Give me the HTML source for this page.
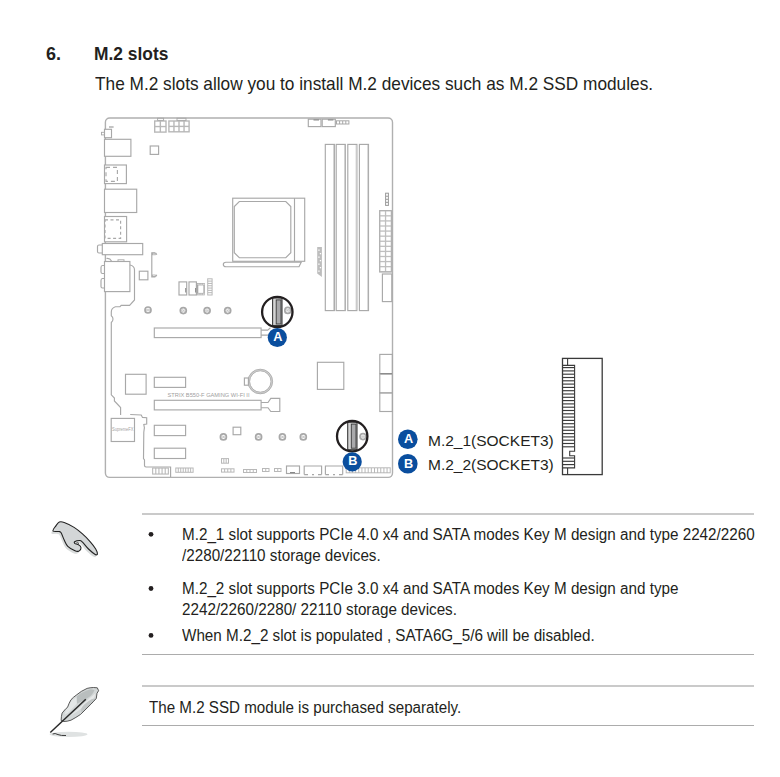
<!DOCTYPE html>
<html><head><meta charset="utf-8">
<style>
html,body{margin:0;padding:0;background:#fff;width:780px;height:777px;overflow:hidden;position:relative}
.t{position:absolute;font-family:"Liberation Sans",sans-serif;white-space:pre;line-height:1;color:#231f20;transform-origin:0 0}
.rule{position:absolute;height:1px;background:#b8b8b8}
svg{position:absolute;left:0;top:0}
</style></head><body>
<div class="t" style="left:46px;top:45px;font-size:18px;font-weight:bold">6.</div>
<div class="t" style="left:94px;top:45px;font-size:18px;font-weight:bold;transform:scaleX(0.965)">M.2 slots</div>
<div class="t" style="left:95px;top:73.5px;font-size:19px;transform:scaleX(0.908)">The M.2 slots allow you to install M.2 devices such as M.2 SSD modules.</div>

<div class="rule" style="left:142px;top:513px;width:612px;height:2px;background:#cacaca"></div>
<div class="rule" style="left:142px;top:654px;width:612px;background:#acacac"></div>
<div class="rule" style="left:142px;top:685px;width:612px;height:2px;background:#cacaca"></div>
<div class="rule" style="left:142px;top:725px;width:612px;background:#acacac"></div>

<div class="t" style="left:182px;top:527px;font-size:16px;transform:scaleX(0.952)">M.2_1 slot supports PCIe 4.0 x4 and SATA modes Key M design and type 2242/2260</div>
<div class="t" style="left:182px;top:548px;font-size:16px;transform:scaleX(0.952)">/2280/22110 storage devices.</div>
<div class="t" style="left:182px;top:581px;font-size:16px;transform:scaleX(0.952)">M.2_2 slot supports PCIe 3.0 x4 and SATA modes Key M design and type</div>
<div class="t" style="left:182px;top:602px;font-size:16px;transform:scaleX(0.952)">2242/2260/2280/ 22110 storage devices.</div>
<div class="t" style="left:182px;top:628px;font-size:16px;transform:scaleX(0.952)">When M.2_2 slot is populated , SATA6G_5/6 will be disabled.</div>
<div class="t" style="left:149px;top:700px;font-size:16px;transform:scaleX(0.947)">The M.2 SSD module is purchased separately.</div>

<div class="t" style="left:428px;top:433px;font-size:15px;transform:scaleX(1.033)">M.2_1(SOCKET3)</div>
<div class="t" style="left:428px;top:457px;font-size:15px;transform:scaleX(1.033)">M.2_2(SOCKET3)</div>

<svg width="780" height="777" viewBox="0 0 780 777">
<g fill="#231f20">
<circle cx="151" cy="534.3" r="2.4"/>
<circle cx="151" cy="588.5" r="2.4"/>
<circle cx="151" cy="635.4" r="2.4"/>
</g>
<rect x="105.40" y="118.00" width="287.10" height="359.40" rx="4.3" fill="none" stroke="#b0b0b0" stroke-width="1.4" />
<rect x="104.50" y="129.30" width="7.00" height="8.40" rx="0" fill="#fff" stroke="#a8a8a8" stroke-width="1.15" />
<rect x="101.50" y="132.30" width="3.00" height="2.60" rx="0" fill="none" stroke="#a8a8a8" stroke-width="0.9" />
<rect x="109" y="126" width="4.6" height="2" fill="#c4c4c4"/>
<rect x="154.00" y="120.30" width="12.70" height="12.50" fill="#b8b8b8"/>
<rect x="155.40" y="121.70" width="4.25" height="4.15" fill="#fff"/>
<rect x="155.40" y="127.25" width="4.25" height="4.15" fill="#fff"/>
<rect x="161.05" y="121.70" width="4.25" height="4.15" fill="#fff"/>
<rect x="161.05" y="127.25" width="4.25" height="4.15" fill="#fff"/>
<rect x="157.60" y="118.20" width="6.00" height="2.20" rx="0" fill="none" stroke="#a8a8a8" stroke-width="0.9" />
<rect x="168.20" y="120.30" width="21.60" height="12.20" fill="#b8b8b8"/>
<rect x="169.60" y="121.70" width="3.65" height="4.00" fill="#fff"/>
<rect x="169.60" y="127.10" width="3.65" height="4.00" fill="#fff"/>
<rect x="174.65" y="121.70" width="3.65" height="4.00" fill="#fff"/>
<rect x="174.65" y="127.10" width="3.65" height="4.00" fill="#fff"/>
<rect x="179.70" y="121.70" width="3.65" height="4.00" fill="#fff"/>
<rect x="179.70" y="127.10" width="3.65" height="4.00" fill="#fff"/>
<rect x="184.75" y="121.70" width="3.65" height="4.00" fill="#fff"/>
<rect x="184.75" y="127.10" width="3.65" height="4.00" fill="#fff"/>
<rect x="177.00" y="118.20" width="9.00" height="2.20" rx="0" fill="none" stroke="#a8a8a8" stroke-width="0.9" />
<rect x="308.30" y="119.20" width="12.70" height="7.40" rx="0" fill="none" stroke="#a8a8a8" stroke-width="1.15" />
<rect x="313.5" y="119.3" width="5.5" height="1.2" fill="#8c8c8c"/>
<rect x="322.20" y="119.20" width="13.10" height="7.40" rx="0" fill="none" stroke="#a8a8a8" stroke-width="1.15" />
<rect x="327.9" y="119.3" width="5.5" height="1.2" fill="#8c8c8c"/>
<rect x="336.00" y="120.30" width="13.40" height="4.20" fill="#a8a8a8"/>
<rect x="337.00" y="121.30" width="2.10" height="2.20" fill="#fff"/>
<rect x="340.10" y="121.30" width="2.10" height="2.20" fill="#fff"/>
<rect x="343.20" y="121.30" width="2.10" height="2.20" fill="#fff"/>
<rect x="346.30" y="121.30" width="2.10" height="2.20" fill="#fff"/>
<rect x="104.50" y="139.30" width="26.40" height="17.00" rx="0" fill="#fff" stroke="#a8a8a8" stroke-width="1.15" />
<rect x="150.20" y="146.00" width="8.40" height="8.40" rx="0" fill="none" stroke="#a8a8a8" stroke-width="1.15" />
<rect x="104.50" y="165.00" width="21.90" height="18.60" rx="0" fill="#fff" stroke="#a8a8a8" stroke-width="1.15" />
<path d="M106,167.3 H117.4 V181.4 H106 Z" fill="none" stroke="#a8a8a8" stroke-width="1.15" stroke-dasharray="4 3"/>
<rect x="104.50" y="189.20" width="32.20" height="23.30" rx="0" fill="#fff" stroke="#a8a8a8" stroke-width="1.15" />
<rect x="104.50" y="216.50" width="22.10" height="25.30" rx="0" fill="#fff" stroke="#a8a8a8" stroke-width="1.15" />
<path d="M105,219.9 H120.6 V238.3 H105 Z" fill="none" stroke="#a8a8a8" stroke-width="1.15" stroke-dasharray="3 2.5"/>
<rect x="102.30" y="243.50" width="40.40" height="11.20" rx="0" fill="#fff" stroke="#a8a8a8" stroke-width="1.15" />
<path d="M102.3,245 H99 Q97.5,245 97.5,246.5 V251.5 Q97.5,253 99,253 H102.3" fill="none" stroke="#a8a8a8" stroke-width="1.15" />
<rect x="104.50" y="261.50" width="25.40" height="30.10" rx="0" fill="#fff" stroke="#a8a8a8" stroke-width="1.15" />
<path d="M104.5,265.5 H102.5 Q101,265.5 101,267.5 V272 Q101,273.5 102.5,273.5 H104.5" fill="none" stroke="#a8a8a8" stroke-width="1.15" />
<path d="M104.5,278.5 H102.5 Q101,278.5 101,280.5 V286.5 Q101,288 102.5,288 H104.5" fill="none" stroke="#a8a8a8" stroke-width="1.15" />
<path d="M106.5,258.5 Q110,258 111.5,261" fill="none" stroke="#a8a8a8" stroke-width="1.15" />
<rect x="118.00" y="259.80" width="6.00" height="1.70" rx="0" fill="none" stroke="#a8a8a8" stroke-width="0.9" />
<path d="M130,265 Q134.5,266 134.5,270 L134.5,300 L129.6,305.4 L121.2,305.4 L120,306.7 L115.4,306.7 Q111.3,308 111.3,312 L111.3,315.7 Q113,317 113,319 Q113,321 111.3,322.5 L111.3,394.8 L114.4,398 L114.4,401 L120.6,407.5 L120.6,415" fill="none" stroke="#a8a8a8" stroke-width="1.15" />
<rect x="139.30" y="271.20" width="8.60" height="8.60" rx="0" fill="none" stroke="#a8a8a8" stroke-width="1.15" />
<path d="M155.4,252.7 H151.8 V276.8 H155.4 M155.8,253 L156.8,254.8 M155.8,276.5 L156.8,274.8" fill="none" stroke="#a8a8a8" stroke-width="1.15" />
<rect x="152.30" y="253.20" width="3.00" height="1.60" rx="0" fill="none" stroke="#a8a8a8" stroke-width="0.8" />
<rect x="152.30" y="275.00" width="3.00" height="1.60" rx="0" fill="none" stroke="#a8a8a8" stroke-width="0.8" />
<rect x="179.00" y="281.90" width="7.70" height="13.10" rx="0" fill="none" stroke="#a8a8a8" stroke-width="1.15" />
<rect x="185.2" y="288" width="1" height="4.5" fill="#888"/>
<rect x="189.00" y="281.90" width="7.40" height="13.10" rx="0" fill="none" stroke="#a8a8a8" stroke-width="1.15" />
<rect x="195.1" y="288" width="1" height="4.5" fill="#888"/>
<rect x="196.9" y="283" width="7.9" height="12.3" fill="#a6a6a6"/>
<rect x="198.3" y="285.4" width="5.1" height="7.5" fill="#fff"/>
<rect x="197.60" y="283.6" width="1" height="1.2" fill="#fff"/>
<rect x="197.60" y="293.5" width="1" height="1.2" fill="#fff"/>
<rect x="199.50" y="283.6" width="1" height="1.2" fill="#fff"/>
<rect x="199.50" y="293.5" width="1" height="1.2" fill="#fff"/>
<rect x="201.40" y="283.6" width="1" height="1.2" fill="#fff"/>
<rect x="201.40" y="293.5" width="1" height="1.2" fill="#fff"/>
<rect x="203.30" y="283.6" width="1" height="1.2" fill="#fff"/>
<rect x="203.30" y="293.5" width="1" height="1.2" fill="#fff"/>
<rect x="207.20" y="278.30" width="5.40" height="17.20" fill="#b8b8b8"/>
<rect x="208.20" y="279.30" width="3.40" height="1.31" fill="#fff"/>
<rect x="208.20" y="281.61" width="3.40" height="1.31" fill="#fff"/>
<rect x="208.20" y="283.93" width="3.40" height="1.31" fill="#fff"/>
<rect x="208.20" y="286.24" width="3.40" height="1.31" fill="#fff"/>
<rect x="208.20" y="288.56" width="3.40" height="1.31" fill="#fff"/>
<rect x="208.20" y="290.87" width="3.40" height="1.31" fill="#fff"/>
<rect x="208.20" y="293.19" width="3.40" height="1.31" fill="#fff"/>
<circle cx="303.3" cy="436.9" r="3.00" fill="none" stroke="#a8a8a8" stroke-width="1.7"/>
<circle cx="302.40" cy="436.9" r="0.9" fill="none" stroke="#b8b8b8" stroke-width="0.7"/>
<circle cx="304.20" cy="436.9" r="0.9" fill="none" stroke="#b8b8b8" stroke-width="0.7"/>
<circle cx="148" cy="310" r="3.00" fill="none" stroke="#a8a8a8" stroke-width="1.7"/>
<circle cx="147.10" cy="310" r="0.9" fill="none" stroke="#b8b8b8" stroke-width="0.7"/>
<circle cx="148.90" cy="310" r="0.9" fill="none" stroke="#b8b8b8" stroke-width="0.7"/>
<circle cx="183.3" cy="310.6" r="3.00" fill="none" stroke="#a8a8a8" stroke-width="1.7"/>
<circle cx="182.40" cy="310.6" r="0.9" fill="none" stroke="#b8b8b8" stroke-width="0.7"/>
<circle cx="184.20" cy="310.6" r="0.9" fill="none" stroke="#b8b8b8" stroke-width="0.7"/>
<circle cx="207.1" cy="310.6" r="3.00" fill="none" stroke="#a8a8a8" stroke-width="1.7"/>
<circle cx="206.20" cy="310.6" r="0.9" fill="none" stroke="#b8b8b8" stroke-width="0.7"/>
<circle cx="208.00" cy="310.6" r="0.9" fill="none" stroke="#b8b8b8" stroke-width="0.7"/>
<circle cx="227.7" cy="310.6" r="3.00" fill="none" stroke="#a8a8a8" stroke-width="1.7"/>
<circle cx="226.80" cy="310.6" r="0.9" fill="none" stroke="#b8b8b8" stroke-width="0.7"/>
<circle cx="228.60" cy="310.6" r="0.9" fill="none" stroke="#b8b8b8" stroke-width="0.7"/>
<circle cx="223.4" cy="436.9" r="3.00" fill="none" stroke="#a8a8a8" stroke-width="1.7"/>
<circle cx="222.50" cy="436.9" r="0.9" fill="none" stroke="#b8b8b8" stroke-width="0.7"/>
<circle cx="224.30" cy="436.9" r="0.9" fill="none" stroke="#b8b8b8" stroke-width="0.7"/>
<circle cx="258.6" cy="436.9" r="3.00" fill="none" stroke="#a8a8a8" stroke-width="1.7"/>
<circle cx="257.70" cy="436.9" r="0.9" fill="none" stroke="#b8b8b8" stroke-width="0.7"/>
<circle cx="259.50" cy="436.9" r="0.9" fill="none" stroke="#b8b8b8" stroke-width="0.7"/>
<circle cx="282.4" cy="436.9" r="3.00" fill="none" stroke="#a8a8a8" stroke-width="1.7"/>
<circle cx="281.50" cy="436.9" r="0.9" fill="none" stroke="#b8b8b8" stroke-width="0.7"/>
<circle cx="283.30" cy="436.9" r="0.9" fill="none" stroke="#b8b8b8" stroke-width="0.7"/>
<circle cx="363" cy="436.6" r="3.00" fill="none" stroke="#a8a8a8" stroke-width="1.7"/>
<circle cx="362.10" cy="436.6" r="0.9" fill="none" stroke="#b8b8b8" stroke-width="0.7"/>
<circle cx="363.90" cy="436.6" r="0.9" fill="none" stroke="#b8b8b8" stroke-width="0.7"/>
<circle cx="287.8" cy="310.4" r="3.00" fill="none" stroke="#a8a8a8" stroke-width="1.7"/>
<circle cx="286.90" cy="310.4" r="0.9" fill="none" stroke="#b8b8b8" stroke-width="0.7"/>
<circle cx="288.70" cy="310.4" r="0.9" fill="none" stroke="#b8b8b8" stroke-width="0.7"/>
<rect x="232.70" y="198.20" width="72.00" height="63.10" rx="0" fill="none" stroke="#a8a8a8" stroke-width="1.15" />
<path d="M294.5,198.2 V261.3" fill="none" stroke="#a8a8a8" stroke-width="1.15" />
<path d="M239.3,201.5 H285.8 L290.8,206.5 V252.7 L285.8,257.7 H239.3 L234.3,252.7 V206.5 Z" fill="none" stroke="#a8a8a8" stroke-width="1.15" />
<path d="M226,262.2 H301.2 L299,266.7 H226 Q223.3,266.7 223.3,264.45 Q223.3,262.2 226,262.2 Z" fill="none" stroke="#a8a8a8" stroke-width="1.15" />
<rect x="325.30" y="144.40" width="9.10" height="166.20" rx="0" fill="none" stroke="#a8a8a8" stroke-width="1.15" />
<path d="M333.60,145 V310.1" fill="none" stroke="#cfcfcf" stroke-width="0.9" />
<rect x="336.20" y="144.40" width="9.10" height="166.20" rx="0" fill="none" stroke="#a8a8a8" stroke-width="1.15" />
<path d="M344.50,145 V310.1" fill="none" stroke="#cfcfcf" stroke-width="0.9" />
<rect x="347.80" y="144.40" width="9.10" height="166.20" rx="0" fill="none" stroke="#a8a8a8" stroke-width="1.15" />
<path d="M356.10,145 V310.1" fill="none" stroke="#cfcfcf" stroke-width="0.9" />
<rect x="359.40" y="144.40" width="9.10" height="166.20" rx="0" fill="none" stroke="#a8a8a8" stroke-width="1.15" />
<path d="M367.70,145 V310.1" fill="none" stroke="#cfcfcf" stroke-width="0.9" />
<path d="M317.2,247 H321.9 V277.1 L317.2,273.5 Z" fill="#bdbdbd" stroke="none" stroke-width="1.15" />
<rect x="318.30" y="249.50" width="1.3" height="1.3" fill="#fff"/>
<rect x="319.80" y="253.00" width="1.3" height="1.3" fill="#fff"/>
<rect x="318.30" y="256.50" width="1.3" height="1.3" fill="#fff"/>
<rect x="319.80" y="260.00" width="1.3" height="1.3" fill="#fff"/>
<rect x="318.30" y="263.50" width="1.3" height="1.3" fill="#fff"/>
<rect x="319.80" y="267.00" width="1.3" height="1.3" fill="#fff"/>
<rect x="318.30" y="270.50" width="1.3" height="1.3" fill="#fff"/>
<rect x="385.10" y="192.70" width="3.80" height="13.20" fill="#999"/>
<rect x="386.10" y="193.70" width="1.80" height="2.05" fill="#fff"/>
<rect x="386.10" y="196.75" width="1.80" height="2.05" fill="#fff"/>
<rect x="386.10" y="199.80" width="1.80" height="2.05" fill="#fff"/>
<rect x="386.10" y="202.85" width="1.80" height="2.05" fill="#fff"/>
<rect x="379.10" y="210.10" width="12.90" height="62.30" fill="#bfbfbf"/>
<rect x="380.40" y="211.40" width="4.50" height="3.78" fill="#fff"/>
<rect x="380.40" y="216.48" width="4.50" height="3.78" fill="#fff"/>
<rect x="380.40" y="221.57" width="4.50" height="3.78" fill="#fff"/>
<rect x="380.40" y="226.65" width="4.50" height="3.78" fill="#fff"/>
<rect x="380.40" y="231.73" width="4.50" height="3.78" fill="#fff"/>
<rect x="380.40" y="236.82" width="4.50" height="3.78" fill="#fff"/>
<rect x="380.40" y="241.90" width="4.50" height="3.78" fill="#fff"/>
<rect x="380.40" y="246.98" width="4.50" height="3.78" fill="#fff"/>
<rect x="380.40" y="252.07" width="4.50" height="3.78" fill="#fff"/>
<rect x="380.40" y="257.15" width="4.50" height="3.78" fill="#fff"/>
<rect x="380.40" y="262.23" width="4.50" height="3.78" fill="#fff"/>
<rect x="380.40" y="267.32" width="4.50" height="3.78" fill="#fff"/>
<rect x="386.20" y="211.40" width="4.50" height="3.78" fill="#fff"/>
<rect x="386.20" y="216.48" width="4.50" height="3.78" fill="#fff"/>
<rect x="386.20" y="221.57" width="4.50" height="3.78" fill="#fff"/>
<rect x="386.20" y="226.65" width="4.50" height="3.78" fill="#fff"/>
<rect x="386.20" y="231.73" width="4.50" height="3.78" fill="#fff"/>
<rect x="386.20" y="236.82" width="4.50" height="3.78" fill="#fff"/>
<rect x="386.20" y="241.90" width="4.50" height="3.78" fill="#fff"/>
<rect x="386.20" y="246.98" width="4.50" height="3.78" fill="#fff"/>
<rect x="386.20" y="252.07" width="4.50" height="3.78" fill="#fff"/>
<rect x="386.20" y="257.15" width="4.50" height="3.78" fill="#fff"/>
<rect x="386.20" y="262.23" width="4.50" height="3.78" fill="#fff"/>
<rect x="386.20" y="267.32" width="4.50" height="3.78" fill="#fff"/>
<rect x="379.60" y="210.60" width="11.90" height="61.30" rx="0" fill="none" stroke="#b0b0b0" stroke-width="1.0" />
<rect x="382.40" y="274.00" width="9.40" height="27.60" rx="0" fill="none" stroke="#a8a8a8" stroke-width="1.15" />
<rect x="154.30" y="328.00" width="106.80" height="9.60" rx="0" fill="none" stroke="#a8a8a8" stroke-width="1.15" />
<path d="M261.1,330.1 H267.7 L270.5,327.8 M261.1,335.1 H268" fill="none" stroke="#a8a8a8" stroke-width="1.15" />
<circle cx="260.3" cy="381.5" r="11.5" fill="none" stroke="#d2d2d2" stroke-width="2.2"/>
<circle cx="260.3" cy="381.5" r="12.3" fill="none" stroke="#a8a8a8" stroke-width="0.8"/>
<circle cx="260.3" cy="381.5" r="10.7" fill="none" stroke="#a8a8a8" stroke-width="0.8"/>
<rect x="244.40" y="378.00" width="4.00" height="7.20" rx="0" fill="#fff" stroke="#a8a8a8" stroke-width="1.15" />
<rect x="317.40" y="362.30" width="26.40" height="27.10" rx="0" fill="none" stroke="#a8a8a8" stroke-width="1.15" />
<rect x="379.80" y="354.40" width="12.60" height="19.30" rx="0" fill="none" stroke="#a8a8a8" stroke-width="1.15" />
<rect x="379.80" y="373.70" width="12.60" height="19.20" rx="0" fill="none" stroke="#a8a8a8" stroke-width="1.15" />
<rect x="379.80" y="392.90" width="12.60" height="18.60" rx="0" fill="none" stroke="#a8a8a8" stroke-width="1.15" />
<path d="M380.3,373.7 H392" fill="none" stroke="#8c8c8c" stroke-width="1.4" />
<rect x="125.50" y="374.30" width="20.60" height="19.90" rx="0" fill="none" stroke="#a8a8a8" stroke-width="1.15" />
<rect x="154.30" y="377.30" width="31.30" height="10.10" rx="0" fill="none" stroke="#a8a8a8" stroke-width="1.15" />
<text x="167.5" y="397" font-family="Liberation Sans" font-size="5.2" fill="#a0a0a0" textLength="82" lengthAdjust="spacingAndGlyphs">STRIX B550-F GAMING WI-FI II</text>
<rect x="154.30" y="400.30" width="106.80" height="9.60" rx="0" fill="none" stroke="#a8a8a8" stroke-width="1.15" />
<path d="M261.1,402.5 H268 L270.8,398.4 H279.8 V411.5 H270.8 L268,407.7 H261.1" fill="none" stroke="#a8a8a8" stroke-width="1.15" />
<rect x="111.20" y="418.40" width="23.30" height="23.10" rx="0" fill="none" stroke="#a8a8a8" stroke-width="1.15" />
<text x="112" y="431.4" font-family="Liberation Sans" font-size="4.6" fill="#a4a4a4" textLength="21.5" lengthAdjust="spacingAndGlyphs">SupremeFX</text>
<path d="M130.2,414.5 L141.2,415 L142.5,417.4 L146.7,417.7 V424.1 L143.8,424.5 L144.4,427.7 L143.8,432.2 L143.5,458.5 L144.5,460 V465.6 Q144.5,467 146,467 H170.6 V477" fill="none" stroke="#a8a8a8" stroke-width="1.15" />
<rect x="154.30" y="425.30" width="31.30" height="10.30" rx="0" fill="none" stroke="#a8a8a8" stroke-width="1.15" />
<rect x="154.30" y="448.20" width="31.30" height="10.30" rx="0" fill="none" stroke="#a8a8a8" stroke-width="1.15" />
<rect x="152.10" y="467.50" width="16.80" height="7.10" fill="#b8b8b8"/>
<rect x="153.20" y="468.60" width="2.04" height="4.90" fill="#fff"/>
<rect x="156.34" y="468.60" width="2.04" height="4.90" fill="#fff"/>
<rect x="159.48" y="468.60" width="2.04" height="4.90" fill="#fff"/>
<rect x="162.62" y="468.60" width="2.04" height="4.90" fill="#fff"/>
<rect x="165.76" y="468.60" width="2.04" height="4.90" fill="#fff"/>
<rect x="175.30" y="467.50" width="18.30" height="5.30" fill="#b8b8b8"/>
<rect x="176.30" y="468.50" width="1.47" height="3.30" fill="#fff"/>
<rect x="178.77" y="468.50" width="1.47" height="3.30" fill="#fff"/>
<rect x="181.24" y="468.50" width="1.47" height="3.30" fill="#fff"/>
<rect x="183.71" y="468.50" width="1.47" height="3.30" fill="#fff"/>
<rect x="186.19" y="468.50" width="1.47" height="3.30" fill="#fff"/>
<rect x="188.66" y="468.50" width="1.47" height="3.30" fill="#fff"/>
<rect x="191.13" y="468.50" width="1.47" height="3.30" fill="#fff"/>
<rect x="233.10" y="427.20" width="7.70" height="7.50" rx="0" fill="none" stroke="#a8a8a8" stroke-width="1.15" />
<rect x="221.00" y="458.10" width="8.00" height="5.60" fill="#b8b8b8"/>
<rect x="222.00" y="459.10" width="1.33" height="3.60" fill="#fff"/>
<rect x="224.33" y="459.10" width="1.33" height="3.60" fill="#fff"/>
<rect x="226.67" y="459.10" width="1.33" height="3.60" fill="#fff"/>
<rect x="221.00" y="468.30" width="13.50" height="4.30" fill="#b8b8b8"/>
<rect x="222.00" y="469.30" width="2.12" height="2.30" fill="#fff"/>
<rect x="225.12" y="469.30" width="2.12" height="2.30" fill="#fff"/>
<rect x="228.25" y="469.30" width="2.12" height="2.30" fill="#fff"/>
<rect x="231.38" y="469.30" width="2.12" height="2.30" fill="#fff"/>
<rect x="243.00" y="469.00" width="14.00" height="4.00" fill="#b8b8b8"/>
<rect x="244.00" y="470.00" width="2.25" height="2.00" fill="#fff"/>
<rect x="247.25" y="470.00" width="2.25" height="2.00" fill="#fff"/>
<rect x="250.50" y="470.00" width="2.25" height="2.00" fill="#fff"/>
<rect x="253.75" y="470.00" width="2.25" height="2.00" fill="#fff"/>
<rect x="262.00" y="468.00" width="7.50" height="4.00" fill="#b8b8b8"/>
<rect x="263.00" y="469.00" width="2.25" height="2.00" fill="#fff"/>
<rect x="266.25" y="469.00" width="2.25" height="2.00" fill="#fff"/>
<rect x="274.00" y="468.00" width="7.50" height="4.00" fill="#b8b8b8"/>
<rect x="275.00" y="469.00" width="2.25" height="2.00" fill="#fff"/>
<rect x="278.25" y="469.00" width="2.25" height="2.00" fill="#fff"/>
<rect x="286.50" y="466.00" width="13.00" height="7.50" rx="0" fill="none" stroke="#a8a8a8" stroke-width="1.15" />
<rect x="290" y="472" width="5" height="1" fill="#888"/>
<path d="M304.2,474.6 V466 H321.6 V474.6 M304.2,474.6 H308 M312,474.6 H314 M318,474.6 H321.6" fill="none" stroke="#a8a8a8" stroke-width="1.15" />
<path d="M325.4,474.6 V466 H342.7 V474.6 M325.4,474.6 H329 M333,474.6 H335 M339,474.6 H342.7" fill="none" stroke="#a8a8a8" stroke-width="1.15" />
<rect x="345.70" y="467.30" width="45.00" height="6.00" fill="#b8b8b8"/>
<rect x="346.70" y="468.30" width="2.14" height="4.00" fill="#fff"/>
<rect x="349.84" y="468.30" width="2.14" height="4.00" fill="#fff"/>
<rect x="352.99" y="468.30" width="2.14" height="4.00" fill="#fff"/>
<rect x="356.13" y="468.30" width="2.14" height="4.00" fill="#fff"/>
<rect x="359.27" y="468.30" width="2.14" height="4.00" fill="#fff"/>
<rect x="362.41" y="468.30" width="2.14" height="4.00" fill="#fff"/>
<rect x="365.56" y="468.30" width="2.14" height="4.00" fill="#fff"/>
<rect x="368.70" y="468.30" width="2.14" height="4.00" fill="#fff"/>
<rect x="371.84" y="468.30" width="2.14" height="4.00" fill="#fff"/>
<rect x="374.99" y="468.30" width="2.14" height="4.00" fill="#fff"/>
<rect x="378.13" y="468.30" width="2.14" height="4.00" fill="#fff"/>
<rect x="381.27" y="468.30" width="2.14" height="4.00" fill="#fff"/>
<rect x="384.41" y="468.30" width="2.14" height="4.00" fill="#fff"/>
<rect x="387.56" y="468.30" width="2.14" height="4.00" fill="#fff"/>
<rect x="272.6" y="297.9" width="9.4" height="27.6" fill="#d4d4d4" stroke="#3a3a3a" stroke-width="1.1"/>
<rect x="276.20" y="299.90" width="4.80" height="24.10" fill="#a9a9ab" stroke="#3a3a3a" stroke-width="0.9"/>
<circle cx="277.3" cy="312" r="15.2" fill="none" stroke="#231f20" stroke-width="2.3"/>
<circle cx="277.3" cy="337.5" r="9.6" fill="#0a4e9e"/>
<text x="277.90" y="341.10" text-anchor="middle" font-family="Liberation Sans" font-weight="bold" font-size="12.7" fill="#fff">A</text>
<rect x="347.7" y="422.1" width="9.3" height="27.6" fill="#d4d4d4" stroke="#3a3a3a" stroke-width="1.1"/>
<rect x="351.30" y="424.10" width="4.70" height="24.10" fill="#a9a9ab" stroke="#3a3a3a" stroke-width="0.9"/>
<circle cx="352.2" cy="436.2" r="15.2" fill="none" stroke="#231f20" stroke-width="2.3"/>
<circle cx="352.2" cy="461.8" r="9.6" fill="#0a4e9e"/>
<text x="352.80" y="465.40" text-anchor="middle" font-family="Liberation Sans" font-weight="bold" font-size="12.7" fill="#fff">B</text>
<circle cx="407.8" cy="439.2" r="9.8" fill="#0a4e9e"/>
<text x="408.6" y="443.10" text-anchor="middle" font-family="Liberation Sans" font-weight="bold" font-size="12.7" fill="#fff">A</text>
<circle cx="407.8" cy="463.8" r="9.8" fill="#0a4e9e"/>
<text x="408.6" y="468.00" text-anchor="middle" font-family="Liberation Sans" font-weight="bold" font-size="12.7" fill="#fff">B</text>
<rect x="562.5" y="358.4" width="39.7" height="116.2" fill="#fff" stroke="#3a3a3a" stroke-width="1.3"/>
<path d="M567.6,358.4 V365.4 M567.6,467.9 V474.6" stroke="#3a3a3a" stroke-width="1.1"/>
<path d="M562.5,365.4 H574.6 V451.2 H569.7 V455.7 H574.6 V467.9 H562.5" fill="none" stroke="#3a3a3a" stroke-width="1.1"/>
<path d="M563,367.60 H574.2" stroke="#3a3a3a" stroke-width="1.15"/>
<path d="M563,370.90 H574.2" stroke="#3a3a3a" stroke-width="1.15"/>
<path d="M563,374.20 H574.2" stroke="#3a3a3a" stroke-width="1.15"/>
<path d="M563,377.50 H574.2" stroke="#3a3a3a" stroke-width="1.15"/>
<path d="M563,380.80 H574.2" stroke="#3a3a3a" stroke-width="1.15"/>
<path d="M563,384.10 H574.2" stroke="#3a3a3a" stroke-width="1.15"/>
<path d="M563,387.40 H574.2" stroke="#3a3a3a" stroke-width="1.15"/>
<path d="M563,390.70 H574.2" stroke="#3a3a3a" stroke-width="1.15"/>
<path d="M563,394.00 H574.2" stroke="#3a3a3a" stroke-width="1.15"/>
<path d="M563,397.30 H574.2" stroke="#3a3a3a" stroke-width="1.15"/>
<path d="M563,400.60 H574.2" stroke="#3a3a3a" stroke-width="1.15"/>
<path d="M563,403.90 H574.2" stroke="#3a3a3a" stroke-width="1.15"/>
<path d="M563,407.20 H574.2" stroke="#3a3a3a" stroke-width="1.15"/>
<path d="M563,410.50 H574.2" stroke="#3a3a3a" stroke-width="1.15"/>
<path d="M563,413.80 H574.2" stroke="#3a3a3a" stroke-width="1.15"/>
<path d="M563,417.10 H574.2" stroke="#3a3a3a" stroke-width="1.15"/>
<path d="M563,420.40 H574.2" stroke="#3a3a3a" stroke-width="1.15"/>
<path d="M563,423.70 H574.2" stroke="#3a3a3a" stroke-width="1.15"/>
<path d="M563,427.00 H574.2" stroke="#3a3a3a" stroke-width="1.15"/>
<path d="M563,430.30 H574.2" stroke="#3a3a3a" stroke-width="1.15"/>
<path d="M563,433.60 H574.2" stroke="#3a3a3a" stroke-width="1.15"/>
<path d="M563,436.90 H574.2" stroke="#3a3a3a" stroke-width="1.15"/>
<path d="M563,440.20 H574.2" stroke="#3a3a3a" stroke-width="1.15"/>
<path d="M563,443.50 H574.2" stroke="#3a3a3a" stroke-width="1.15"/>
<path d="M563,446.80 H574.2" stroke="#3a3a3a" stroke-width="1.15"/>
<path d="M563,458.00 H574.2" stroke="#3a3a3a" stroke-width="1.15"/>
<path d="M563,461.30 H574.2" stroke="#3a3a3a" stroke-width="1.15"/>
<path d="M563,464.60 H574.2" stroke="#3a3a3a" stroke-width="1.15"/>
<path d="M59.30,522.10 C60.72,521.50 61.73,521.62 64.20,522.50 C66.67,523.38 71.10,525.53 74.10,527.40 C77.10,529.27 79.50,531.30 82.20,533.70 C84.90,536.10 88.05,539.25 90.30,541.80 C92.55,544.35 94.52,546.98 95.70,549.00 C96.88,551.02 97.48,553.00 97.40,553.90 C97.32,554.80 96.68,555.22 95.20,554.40 C93.72,553.58 90.67,551.10 88.50,549.00 C86.33,546.90 83.70,543.22 82.20,541.80 C80.70,540.38 80.77,540.50 79.50,540.50 C78.23,540.50 75.35,541.28 74.60,541.80 C73.85,542.32 74.48,543.15 75.00,543.60 C75.52,544.05 76.80,544.05 77.70,544.50 C78.60,544.95 79.88,545.55 80.40,546.30 C80.92,547.05 81.10,548.18 80.80,549.00 C80.50,549.82 79.57,550.90 78.60,551.20 C77.63,551.50 76.80,551.62 75.00,550.80 C73.20,549.98 69.60,548.10 67.80,546.30 C66.00,544.50 65.32,542.25 64.20,540.00 C63.08,537.75 61.98,534.22 61.10,532.80 C60.22,531.38 60.25,531.80 58.90,531.50 C57.55,531.20 53.53,531.90 53.00,531.00 C52.47,530.10 54.65,527.58 55.70,526.10 C56.75,524.62 57.88,522.70 59.30,522.10 Z" fill="#d9dcdc" transform="translate(-1.5,2.4)"/>
<path d="M59.30,522.10 C60.72,521.50 61.73,521.62 64.20,522.50 C66.67,523.38 71.10,525.53 74.10,527.40 C77.10,529.27 79.50,531.30 82.20,533.70 C84.90,536.10 88.05,539.25 90.30,541.80 C92.55,544.35 94.52,546.98 95.70,549.00 C96.88,551.02 97.48,553.00 97.40,553.90 C97.32,554.80 96.68,555.22 95.20,554.40 C93.72,553.58 90.67,551.10 88.50,549.00 C86.33,546.90 83.70,543.22 82.20,541.80 C80.70,540.38 80.77,540.50 79.50,540.50 C78.23,540.50 75.35,541.28 74.60,541.80 C73.85,542.32 74.48,543.15 75.00,543.60 C75.52,544.05 76.80,544.05 77.70,544.50 C78.60,544.95 79.88,545.55 80.40,546.30 C80.92,547.05 81.10,548.18 80.80,549.00 C80.50,549.82 79.57,550.90 78.60,551.20 C77.63,551.50 76.80,551.62 75.00,550.80 C73.20,549.98 69.60,548.10 67.80,546.30 C66.00,544.50 65.32,542.25 64.20,540.00 C63.08,537.75 61.98,534.22 61.10,532.80 C60.22,531.38 60.25,531.80 58.90,531.50 C57.55,531.20 53.53,531.90 53.00,531.00 C52.47,530.10 54.65,527.58 55.70,526.10 C56.75,524.62 57.88,522.70 59.30,522.10 Z" fill="#d3d6d7" stroke="#222" stroke-width="1.1"/>
<path d="M76.2,543.2 Q77.5,541.8 78.6,543 Q78.6,544.3 77.2,544.2" fill="none" stroke="#2a2a2a" stroke-width="0.7"/>
<ellipse cx="68.5" cy="734.3" rx="19" ry="2.6" fill="#dfe2e2"/>
<path d="M52.6,734 Q55,732.8 58,734.6 Q61,735.8 66,735.5" stroke="#3a3a3a" stroke-width="1" fill="none"/>
<path d="M97.3,687.8 L98.6,690.7 L97,693.3 L96.3,698.4 Q94,701 90.9,704.2 L81.9,713.1 L80.6,714.4 Q76,717.5 71,720.2 Q67,721.5 64,721.5 L61.1,720.5 Q61.3,716 62.1,713.1 L65.9,708.6 L67.5,707.4 Q69,703 71,699.7 Q73.5,697 76.2,695.2 Q81,691 87.1,688.4 Q90,687.6 93.5,687.5 Z" fill="#d3d7d7" stroke="none"/>
<path d="M77,696.3 Q82,691.5 90.9,689.2 L94.5,690 Q93,694 90.9,695.8 L85.8,699.3 L76.8,703.8 Z" fill="#b9bebe"/>
<path d="M95.5,693 Q95,697 93,699 L82,708 Q76,712.5 70,716 Q78,709 86,701.5 Q92,696 95.5,693 Z" fill="#e6e8e8"/>
<path d="M71.5,700.5 L76.2,697.5 L76.8,703.8 L68,713 L64.8,714.5 Q66,709 67.5,707.6 Q69.5,704 71.5,700.5 Z" fill="#e4e7e7"/>
<path d="M96.3,698.4 Q94,701 90.9,704.2 L81.9,713.1 Q78,707 92,699 Z" fill="#c2c6c6"/>
<path d="M97.3,687.8 L98.6,690.7 L97,693.3 L96.3,698.4 Q94,701 90.9,704.2 L81.9,713.1 L80.6,714.4 Q76,717.5 71,720.2 Q67,721.5 64,721.5 L61.1,720.5 Q61.3,716 62.1,713.1 L65.9,708.6 L67.5,707.4 Q69,703 71,699.7 Q73.5,697 76.2,695.2 Q81,691 87.1,688.4 Q90,687.6 93.5,687.5 Z" fill="none" stroke="#333" stroke-width="0.8"/>
<path d="M50.3,732.5 L85.8,699.3" stroke="#2a2a2a" stroke-width="1.5"/>
</svg>
</body></html>
